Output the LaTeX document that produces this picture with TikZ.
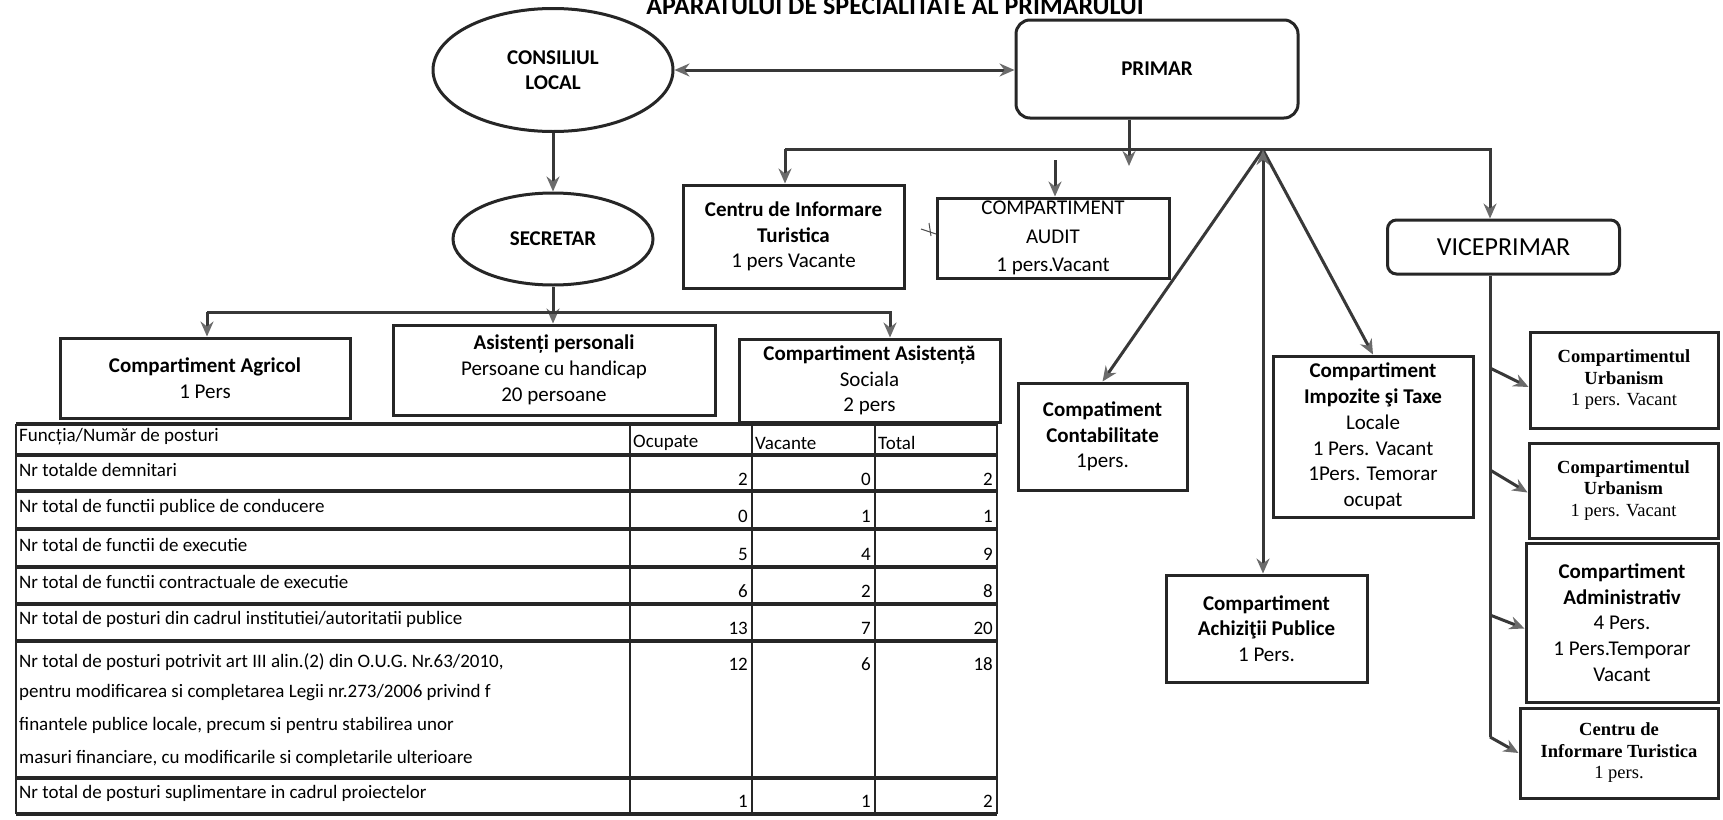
\documentclass[tikz,border=0pt]{standalone}
\usepackage{fontspec}
\setmainfont{Carlito}
\newfontfamily\seriffont{Liberation Serif}
\usetikzlibrary{arrows.meta,shapes.geometric,calc}
\tikzset{
  bx/.style={draw=black!85, line width=3pt, align=center, inner sep=0pt, font=\fontsize{21}{25.8}\selectfont},
  rbx/.style={bx, rounded corners=12pt},
  sbx/.style={bx, font=\seriffont\fontsize{18.5}{21.5}\selectfont},
  ell/.style={draw=black!85, line width=3pt, ellipse, align=center, inner sep=0pt, font=\bfseries\fontsize{21}{25}\selectfont},
  cn/.style={draw=black!78, line width=3pt},
  ar/.style={cn, -{Stealth[length=15pt,width=13pt,inset=5pt,color=black!58]}},
  ar2/.style={cn, {Stealth[length=15pt,width=13pt,inset=5pt,color=black!58]}-{Stealth[length=15pt,width=13pt,inset=5pt,color=black!58]}},
  tl/.style={font=\fontsize{19}{22}\selectfont, inner sep=0pt, anchor=west},
  tn/.style={font=\fontsize{19}{22}\selectfont, inner sep=0pt, anchor=east},
  hl/.style={draw=black!85, line width=3.5pt},
  vl/.style={draw=black!85, line width=2.5pt},
}
\begin{document}
\begin{tikzpicture}[x=1pt,y=-1pt]
\path[fill=white, use as bounding box] (0,0) rectangle (1723,819);

% title (top cut off as in the scan)
\node[font=\bfseries\fontsize{26}{30}\selectfont, anchor=base, inner sep=0pt] (title) at (895,14.5) {APARATULUI DE SPECIALITATE AL PRIMARULUI};

% top level
\node[ell, minimum width=240pt, minimum height=123pt] (cl) at (553,70) {CONSILIUL\\LOCAL};
\node[ell, minimum width=200pt, minimum height=92pt] (sec) at (553,239) {SECRETAR};
\node[rbx, rounded corners=14pt, minimum width=282pt, minimum height=98pt, font=\bfseries\fontsize{21}{25}\selectfont] (primar) at (1157,69) {PRIMAR};

% second level
\node[bx, minimum width=221pt, minimum height=103pt] (ci) at (793.5,236.5) {\textbf{Centru de Informare}\\\textbf{Turistica}\\1 pers Vacante};
\node[bx, minimum width=232pt, minimum height=80pt, font=\fontsize{21}{28.5}\selectfont] (audit) at (1053,238) {COMPARTIMENT\\AUDIT\\1 pers.Vacant};
\node[rbx, rounded corners=9pt, minimum width=232pt, minimum height=54pt, font=\fontsize{26}{30}\selectfont] (vice) at (1503.5,247) {VICEPRIMAR};

% secretar subordinates
\node[bx, minimum width=290pt, minimum height=80pt] (agr) at (205,378) {\textbf{Compartiment Agricol}\\1 Pers};
\node[bx, minimum width=322pt, minimum height=90pt] (asp) at (554,370) {\textbf{Asistenți personali}\\Persoane cu handicap\\20 persoane};
\node[bx, minimum width=261pt, minimum height=83pt] (aso) at (869.5,380.5) {\textbf{Compartiment Asistență}\\Sociala\\2 pers};

% primar subordinates
\node[bx, minimum width=169pt, minimum height=107pt] (cont) at (1102.5,436.5) {\textbf{Compatiment}\\\textbf{Contabilitate}\\1pers.};
\node[bx, minimum width=200pt, minimum height=161pt] (imp) at (1373,436.5) {\textbf{Compartiment}\\\textbf{Impozite şi Taxe}\\Locale\\1 Pers. Vacant\\1Pers. Temorar\\ocupat};
\node[bx, minimum width=201pt, minimum height=107pt] (ach) at (1266.5,628.5) {\textbf{Compartiment}\\\textbf{Achiziţii Publice}\\1 Pers.};

% viceprimar subordinates
\node[sbx, minimum width=188pt, minimum height=96pt] (u1) at (1624,380) {\textbf{Compartimentul}\\\textbf{Urbanism}\\1 pers. Vacant};
\node[sbx, minimum width=189pt, minimum height=95pt] (u2) at (1623.5,490.5) {\textbf{Compartimentul}\\\textbf{Urbanism}\\1 pers. Vacant};
\node[bx, minimum width=192pt, minimum height=159pt] (adm) at (1622,622.5) {\textbf{Compartiment}\\\textbf{Administrativ}\\4 Pers.\\1 Pers.Temporar\\Vacant};
\node[sbx, minimum width=198pt, minimum height=90pt] (ci2) at (1619,753) {\textbf{Centru de}\\\textbf{Informare Turistica}\\1 pers.};

% connectors
\draw[ar2] (cl.east) -- (cl.east -| primar.west);
\draw[ar] (cl.south) -- (sec.north);

\coordinate (pd) at (1129,166);
\draw[ar] (primar.south -| pd) -- (pd);
\coordinate (b1) at (785,149);
\coordinate (b2) at (1490,149);
\draw[ar] (b1) -- (b1 |- ci.north);
\draw[ar] (b1) -- (b2) -- (b2 |- vice.north);
\coordinate (a1) at (1055,160);
\draw[ar] (a1) -- (a1 |- audit.north);
\coordinate (apex) at (1263,150);
\draw[ar] (apex) -- (cont.north);
\draw[ar] (apex) -- (imp.north);
\draw[ar2] (apex) -- (apex |- ach.north);

\coordinate (s1) at (207,312);
\coordinate (s2) at (890,312);
\draw[ar] (sec.south) -- (sec.south |- asp.north);
\draw[ar] (s1) -- (s1 |- agr.north);
\draw[ar] (s1) -- (s2) -- (s2 |- aso.north);

\coordinate (v1) at (1490,368);
\coordinate (v2) at (1490,470);
\coordinate (v3) at (1490,615);
\coordinate (v4) at (1490,737);
\draw[cn] (vice.south -| v1) -- (v4);
\draw[ar] (v1) -- ($(u1.west)+(0,7)$);
\draw[ar] (v2) -- ($(u2.west)+(0,2)$);
\draw[ar] (v3) -- ($(adm.west)+(0,6)$);
\draw[ar] (v4) -- (ci2.west);

% small pen mark left of the audit box
\draw[black!70, line width=1pt] (921,229) -- (936,234);
\draw[black!70, line width=1pt] (929,223) -- (931,236);

% table
\foreach \y in {424,455,491,529,567,604,641,778,814} \draw[hl] (16,\y) -- (997,\y);
\foreach \x in {16,630,752,875,997} \draw[vl] (\x,424) -- (\x,814);

\node[tl] (h0) at (19,437) {Funcția/Număr de posturi};
\node[tl] (h1) at (633,443) {Ocupate};
\node[tl] (h2) at (755,443) {Vacante};
\node[tl] (h3) at (878,443) {Total};

\node[tl] (r1) at (19,470) {Nr totalde demnitari};
\node[tn] (r1o) at (748,479) {2};
\node[tn] (r1v) at (871,479) {0};
\node[tn] (r1t) at (993,479) {2};

\node[tl] (r2) at (19,507) {Nr total de functii publice de conducere};
\node[tn] (r2o) at (748,516) {0};
\node[tn] (r2v) at (871,516) {1};
\node[tn] (r2t) at (993,516) {1};

\node[tl] (r3) at (19,545) {Nr total de functii de executie};
\node[tn] (r3o) at (748,554) {5};
\node[tn] (r3v) at (871,554) {4};
\node[tn] (r3t) at (993,554) {9};

\node[tl] (r4) at (19,582) {Nr total de functii contractuale de executie};
\node[tn] (r4o) at (748,591) {6};
\node[tn] (r4v) at (871,591) {2};
\node[tn] (r4t) at (993,591) {8};

\node[tl] (r5) at (19,619) {Nr total de posturi din cadrul institutiei/autoritatii publice};
\node[tn] (r5o) at (748,628) {13};
\node[tn] (r5v) at (871,628) {7};
\node[tn] (r5t) at (993,628) {20};

\node[tl] (r6a) at (19,662) {Nr total de posturi potrivit art III alin.(2) din O.U.G. Nr.63/2010,};
\node[tl] (r6b) at (19,693) {pentru modificarea si completarea Legii nr.273/2006 privind f};
\node[tl] (r6c) at (19,725) {finantele publice locale, precum si pentru stabilirea unor};
\node[tl] (r6d) at (19,758) {masuri financiare, cu modificarile si completarile ulterioare};
\node[tn] (r6o) at (748,664) {12};
\node[tn] (r6v) at (871,664) {6};
\node[tn] (r6t) at (993,664) {18};

\node[tl] (r7) at (19,793) {Nr total de posturi suplimentare in cadrul proiectelor};
\node[tn] (r7o) at (748,801) {1};
\node[tn] (r7v) at (871,801) {1};
\node[tn] (r7t) at (993,801) {2};
\end{tikzpicture}
\end{document}
